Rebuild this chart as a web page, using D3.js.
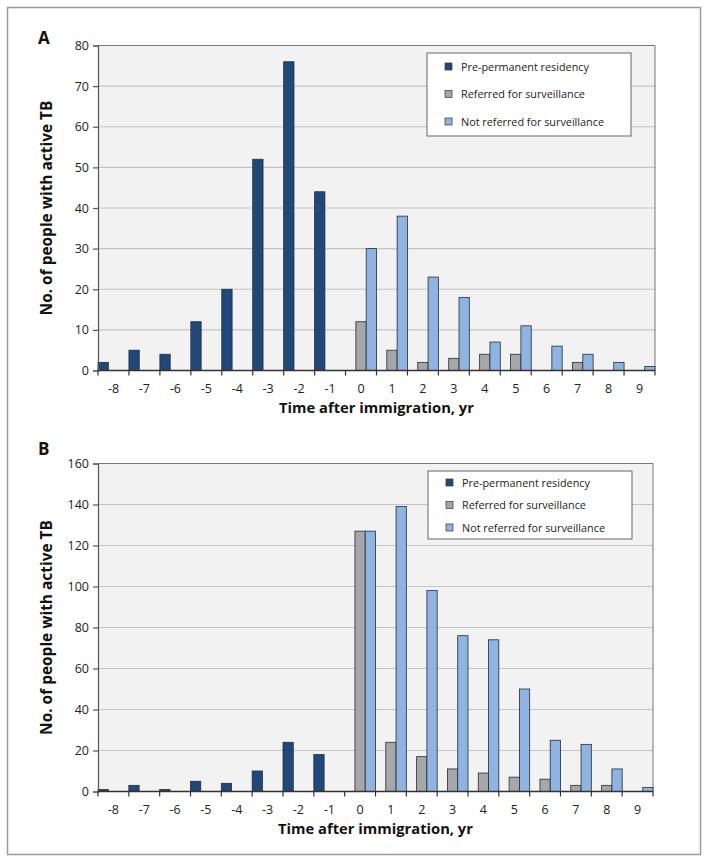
<!DOCTYPE html>
<html>
<head>
<meta charset="utf-8">
<script src="https://cdn.jsdelivr.net/npm/d3@7"></script>
<style>
  html, body { margin: 0; padding: 0; background: #fff; }
  svg { display: block; font-family: "Open Sans", "Noto Sans", sans-serif; }
</style>
</head>
<body>
<svg id="chart" width="709" height="863"></svg>
<script>
// ---- Data ----
const years = ["-8","-7","-6","-5","-4","-3","-2","-1","0","1","2","3","4","5","6","7","8","9"];
const seriesNames = ["Pre-permanent residency", "Referred for surveillance", "Not referred for surveillance"];
const seriesColors = ["#1f497d", "#a5a7aa", "#8db4e2"];

// Panel A
const preA      = [2, 5, 4, 12, 20, 52, 76, 44, 0, 0, 0, 0, 0, 0, 0, 0, 0, 0];
const referredA = [0, 0, 0, 0, 0, 0, 0, 0, 12, 5, 2, 3, 4, 4, 0, 2, 0, 0];
const notRefA   = [0, 0, 0, 0, 0, 0, 0, 0, 30, 38, 23, 18, 7, 11, 6, 4, 2, 1];
const yTicksA   = [0, 10, 20, 30, 40, 50, 60, 70, 80];

// Panel B
const preB      = [1, 3, 1, 5, 4, 10, 24, 18, 0, 0, 0, 0, 0, 0, 0, 0, 0, 0];
const referredB = [0, 0, 0, 0, 0, 0, 0, 0, 127, 24, 17, 11, 9, 7, 6, 3, 3, 0];
const notRefB   = [0, 0, 0, 0, 0, 0, 0, 0, 127, 139, 98, 76, 74, 50, 25, 23, 11, 2];
const yTicksB   = [0, 20, 40, 60, 80, 100, 120, 140, 160];

const xTitle = "Time after immigration, yr";
const yTitle = "No. of people with active TB";

const svg = d3.select("#chart");

// scale a text's font size so its rendered width matches a target width
function fitWidth(sel, target) {
  const node = sel.node();
  const w = node.getComputedTextLength();
  const fs = parseFloat(sel.attr("font-size"));
  if (w > 0) sel.attr("font-size", (fs * target / w).toFixed(2));
}

// outer frame
svg.append("rect")
  .attr("x", 7.5).attr("y", 7.5).attr("width", 693).attr("height", 847)
  .attr("fill", "none").attr("stroke", "#9a9a9a").attr("stroke-width", 1.5);

function panel(opts) {
  const { label, series, yTicks, top, bottom, left, right, labelY, legend } = opts;
  const g = svg.append("g");

  const x0 = d3.scaleBand().domain(years).range([left, right]).paddingInner(0).paddingOuter(0);
  const x1 = d3.scaleBand().domain(d3.range(3)).range([0, x0.bandwidth()]).padding(0);
  const y = d3.scaleLinear().domain([0, d3.max(yTicks)]).range([bottom, top]);

  // plot background
  g.append("rect")
    .attr("x", left).attr("y", top).attr("width", right - left).attr("height", bottom - top)
    .attr("fill", "#f2f2f2");

  // gridlines
  g.append("g").selectAll("line").data(yTicks.filter(t => t > 0)).join("line")
    .attr("x1", left).attr("x2", right)
    .attr("y1", d => y(d)).attr("y2", d => y(d))
    .attr("stroke", "#c4c4c4").attr("stroke-width", 1.2);

  // plot border (top & right)
  g.append("path")
    .attr("d", `M${left},${top}H${right}V${bottom}`)
    .attr("fill", "none").attr("stroke", "#777").attr("stroke-width", 1);

  // bars
  const rows = years.map((yr, i) => ({ yr, vals: series.map(s => s[i]) }));
  const grp = g.append("g").selectAll("g").data(rows).join("g")
    .attr("transform", d => `translate(${x0(d.yr)},0)`);
  grp.selectAll("rect").data(d => d.vals.map((v, k) => ({ v, k })).filter(e => e.v > 0)).join("rect")
    .attr("x", d => x1(d.k))
    .attr("width", x1.bandwidth())
    .attr("y", d => y(d.v))
    .attr("height", d => y(0) - y(d.v))
    .attr("fill", d => seriesColors[d.k])
    .attr("stroke", "#2b2b2b").attr("stroke-width", 0.8);

  // y axis
  const ya = g.append("g").attr("transform", `translate(${left},0)`)
    .call(d3.axisLeft(y).tickValues(yTicks).tickSize(5).tickPadding(4).tickFormat(d3.format("d")));
  ya.select(".domain").attr("stroke", "#555").attr("stroke-width", 1.2);
  ya.selectAll(".tick line").attr("stroke", "#555").attr("stroke-width", 1.2);
  ya.selectAll("text").attr("font-size", 12.5).attr("fill", "#222")
    .attr("font-family", "'Open Sans', 'Noto Sans', sans-serif");

  // x axis (ticks at band boundaries)
  const xa = g.append("g").attr("transform", `translate(0,${bottom})`);
  xa.append("line").attr("x1", left).attr("x2", right).attr("y1", 0).attr("y2", 0)
    .attr("stroke", "#333").attr("stroke-width", 1.4);
  const bounds = years.map(yr => x0(yr)).concat([right]);
  xa.selectAll("line.tk").data(bounds).join("line").attr("class", "tk")
    .attr("x1", d => d).attr("x2", d => d).attr("y1", 0).attr("y2", 5)
    .attr("stroke", "#333").attr("stroke-width", 1.2);
  xa.selectAll("text").data(years).join("text")
    .attr("x", d => x0(d) + x0.bandwidth() / 2)
    .attr("y", 22)
    .attr("text-anchor", "middle")
    .attr("font-size", 12.5).attr("fill", "#222")
    .text(d => d);

  // axis titles
  const xt = g.append("text")
    .attr("x", (left + right) / 2).attr("y", bottom + 42)
    .attr("text-anchor", "middle").attr("font-weight", "bold").attr("font-size", 13.5).attr("fill", "#111")
    .text(xTitle);
  fitWidth(xt, 195);
  const yt = g.append("text")
    .attr("transform", `translate(52,${(top + bottom) / 2}) rotate(-90)`)
    .attr("text-anchor", "middle").attr("font-weight", "bold").attr("font-size", 13.5).attr("fill", "#111")
    .text(yTitle);
  fitWidth(yt, 215);

  // panel label
  g.append("text")
    .attr("x", 38).attr("y", labelY)
    .attr("font-weight", "bold").attr("font-size", 17).attr("fill", "#111")
    .text(label);

  // legend
  const lg = g.append("g");
  lg.append("rect")
    .attr("x", legend.x).attr("y", legend.y).attr("width", legend.w).attr("height", legend.h)
    .attr("fill", "#fff").attr("stroke", "#666").attr("stroke-width", 1);
  seriesNames.forEach((name, k) => {
    const cy = legend.y + legend.first + k * legend.step;
    lg.append("rect")
      .attr("x", legend.x + 18).attr("y", cy - 3.5).attr("width", 7).attr("height", 7)
      .attr("fill", seriesColors[k]).attr("stroke", "#333").attr("stroke-width", 0.7);
    const t = lg.append("text")
      .attr("x", legend.x + 34).attr("y", cy + 4)
      .attr("font-size", 11).attr("fill", "#222")
      .text(name);
    if (k === 0) fitWidth(t, 128);
    else t.attr("font-size", lg.select("text").attr("font-size"));
  });
}

panel({
  label: "A",
  series: [preA, referredA, notRefA],
  yTicks: yTicksA,
  top: 45.5, bottom: 370.5, left: 98, right: 655,
  labelY: 44,
  legend: { x: 427, y: 53, w: 204, h: 83, first: 13.5, step: 27.5 }
});

panel({
  label: "B",
  series: [preB, referredB, notRefB],
  yTicks: yTicksB,
  top: 463.5, bottom: 791.5, left: 98, right: 653,
  labelY: 455,
  legend: { x: 428, y: 471, w: 204, h: 68, first: 11.5, step: 22.5 }
});
</script>
</body>
</html>
